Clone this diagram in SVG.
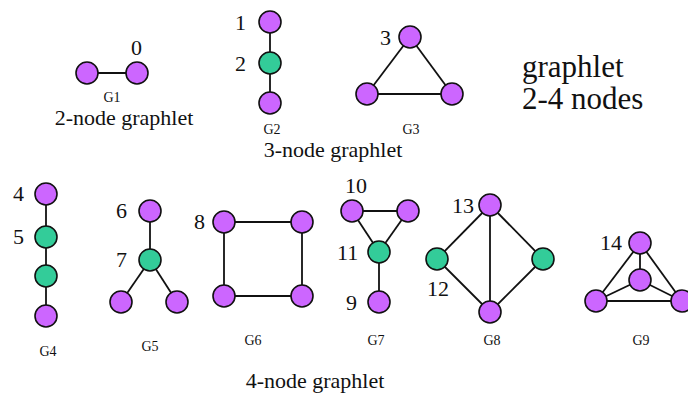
<svg xmlns="http://www.w3.org/2000/svg" width="688" height="394" viewBox="0 0 688 394">
<style>
.p{fill:#CC66FF;stroke:#111;stroke-width:1.6}
.g{fill:#33CC99;stroke:#111;stroke-width:1.6}
.e line{stroke:#111;stroke-width:1.8}
.n{font-size:22px}
.s{font-size:14px;text-anchor:middle}
.t{font-size:22px;text-anchor:middle}
.b{font-size:31px}
</style>
<rect width="688" height="394" fill="#fff"/>
<g class="e" id="connectors">
<line x1="87" y1="73" x2="137" y2="73"/>
<line x1="270" y1="22" x2="270" y2="103"/>
<line x1="410" y1="37" x2="367" y2="94"/>
<line x1="410" y1="37" x2="452" y2="94"/>
<line x1="367" y1="94" x2="452" y2="94"/>
<line x1="46" y1="194" x2="46" y2="316"/>
<line x1="150" y1="211" x2="150" y2="260"/>
<line x1="150" y1="260" x2="121" y2="302"/>
<line x1="150" y1="260" x2="177" y2="302"/>
<line x1="224" y1="222" x2="302" y2="222"/>
<line x1="224" y1="296" x2="302" y2="296"/>
<line x1="224" y1="222" x2="224" y2="296"/>
<line x1="302" y1="222" x2="302" y2="296"/>
<line x1="352" y1="211" x2="408" y2="211"/>
<line x1="352" y1="211" x2="379" y2="252"/>
<line x1="408" y1="211" x2="379" y2="252"/>
<line x1="379" y1="252" x2="379" y2="302"/>
<line x1="490" y1="205" x2="437" y2="259"/>
<line x1="490" y1="205" x2="543" y2="259"/>
<line x1="490" y1="205" x2="490" y2="312"/>
<line x1="437" y1="259" x2="490" y2="312"/>
<line x1="543" y1="259" x2="490" y2="312"/>
<line x1="640" y1="243" x2="596" y2="301"/>
<line x1="640" y1="243" x2="682" y2="301"/>
<line x1="640" y1="243" x2="640" y2="280"/>
<line x1="640" y1="280" x2="596" y2="301"/>
<line x1="640" y1="280" x2="682" y2="301"/>
<line x1="596" y1="301" x2="682" y2="301"/>
</g>
<g font-family="'Liberation Serif', 'DejaVu Serif', serif" fill="#111">
<g id="G1">
<circle class="p" cx="87" cy="73" r="11"/>
<circle class="p" cx="137" cy="73" r="11"/>
<text class="n" x="131" y="55">0</text>
<text class="s" x="112" y="102">G1</text>
</g>
<text class="t" x="124" y="125">2-node graphlet</text>
<g id="G2">
<circle class="p" cx="270" cy="22" r="11"/>
<circle class="g" cx="270" cy="63" r="11"/>
<circle class="p" cx="270" cy="103" r="11"/>
<text class="n" x="235" y="30">1</text>
<text class="n" x="235" y="71">2</text>
<text class="s" x="272" y="134">G2</text>
</g>
<g id="G3">
<circle class="p" cx="410" cy="37" r="11"/>
<circle class="p" cx="367" cy="94" r="11"/>
<circle class="p" cx="452" cy="94" r="11"/>
<text class="n" x="380" y="45">3</text>
<text class="s" x="411" y="134">G3</text>
</g>
<text class="t" x="333" y="157">3-node graphlet</text>
<text class="b" x="522" y="77">graphlet</text>
<text class="b" x="522" y="109">2-4 nodes</text>
<g id="G4">
<circle class="p" cx="46" cy="194" r="11"/>
<circle class="g" cx="46" cy="237" r="11"/>
<circle class="g" cx="46" cy="276" r="11"/>
<circle class="p" cx="46" cy="316" r="11"/>
<text class="n" x="13" y="201">4</text>
<text class="n" x="13" y="244">5</text>
<text class="s" x="48" y="356">G4</text>
</g>
<g id="G5">
<circle class="p" cx="150" cy="211" r="11"/>
<circle class="g" cx="150" cy="260" r="11"/>
<circle class="p" cx="121" cy="302" r="11"/>
<circle class="p" cx="177" cy="302" r="11"/>
<text class="n" x="116" y="218">6</text>
<text class="n" x="116" y="267">7</text>
<text class="s" x="150" y="351">G5</text>
</g>
<g id="G6">
<circle class="p" cx="224" cy="222" r="11"/>
<circle class="p" cx="302" cy="222" r="11"/>
<circle class="p" cx="224" cy="296" r="11"/>
<circle class="p" cx="302" cy="296" r="11"/>
<text class="n" x="194" y="229">8</text>
<text class="s" x="253" y="345">G6</text>
</g>
<g id="G7">
<circle class="p" cx="352" cy="211" r="11"/>
<circle class="p" cx="408" cy="211" r="11"/>
<circle class="g" cx="379" cy="252" r="11"/>
<circle class="p" cx="379" cy="302" r="11"/>
<text class="n" x="345" y="193">10</text>
<text class="n" x="337" y="260">11</text>
<text class="n" x="346" y="310">9</text>
<text class="s" x="376" y="345">G7</text>
</g>
<g id="G8">
<circle class="p" cx="490" cy="205" r="11"/>
<circle class="g" cx="437" cy="259" r="11"/>
<circle class="g" cx="543" cy="259" r="11"/>
<circle class="p" cx="490" cy="312" r="11"/>
<text class="n" x="452" y="213">13</text>
<text class="n" x="427" y="296">12</text>
<text class="s" x="492" y="345">G8</text>
</g>
<g id="G9">
<circle class="p" cx="640" cy="243" r="11"/>
<circle class="p" cx="640" cy="280" r="11"/>
<circle class="p" cx="596" cy="301" r="11"/>
<circle class="p" cx="682" cy="301" r="11"/>
<text class="n" x="600" y="250">14</text>
<text class="s" x="641" y="345">G9</text>
</g>
<text class="t" x="315" y="388">4-node graphlet</text>
</g>
</svg>
